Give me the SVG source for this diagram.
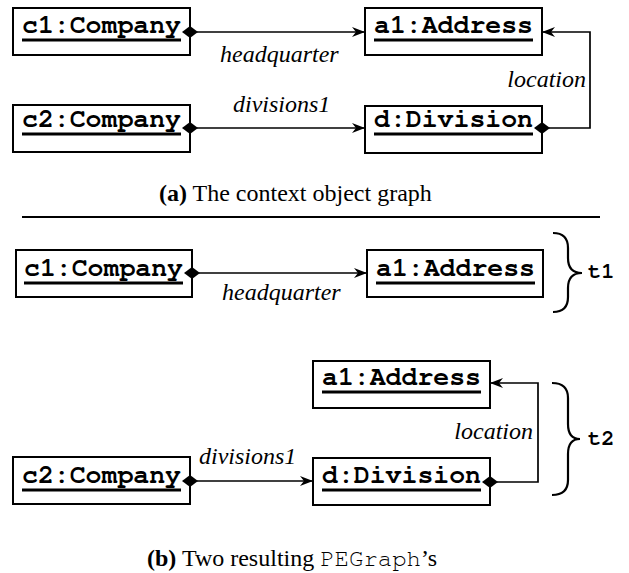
<svg xmlns="http://www.w3.org/2000/svg" width="629" height="573" viewBox="0 0 629 573">
<style>
.box{fill:#fff;stroke:#000;stroke-width:2}
.obj{font-family:"Nimbus Mono PS","Nimbus Mono L","FreeMono","Courier New","Liberation Mono",monospace;font-weight:bold;font-size:26.5px;fill:#000}
.ul{stroke:#000;stroke-width:3}
.lbl{font-family:"Liberation Serif","Times New Roman",serif;font-style:italic;font-size:24px;fill:#000}
.conn{fill:none;stroke:#000;stroke-width:1.7}
.dia{fill:#000}
.brace{fill:none;stroke:#000;stroke-width:2.2}
.tag{font-family:"Nimbus Mono PS","Nimbus Mono L","FreeMono","Courier New","Liberation Mono",monospace;font-weight:bold;font-size:22px;fill:#000}
.cap{font-family:"Liberation Serif","Times New Roman",serif;font-size:24px;fill:#000}
.mono{font-family:"Nimbus Mono PS","Nimbus Mono L","FreeMono","Courier New","Liberation Mono",monospace}
</style>
<defs>
<marker id="arr" markerWidth="14" markerHeight="12" refX="13" refY="5" orient="auto" markerUnits="userSpaceOnUse">
<path d="M0,0 L13,5 L0,10 L4,5 z" fill="#000"/>
</marker>
<path id="dm" d="M-8,0 L0,-6 L8,0 L0,6 z"/>
</defs>

<!-- (a) context object graph -->
<g id="a-c1"><rect class="box" x="13" y="8" width="177" height="47"/><text class="obj" x="22" y="33">c1:Company</text><line class="ul" x1="22" y1="40" x2="181" y2="40"/></g>
<g id="a-c2"><rect class="box" x="13" y="105" width="177" height="47"/><text class="obj" x="22" y="127">c2:Company</text><line class="ul" x1="22" y1="134" x2="181" y2="134"/></g>
<g id="a-a1"><rect class="box" x="365" y="8" width="177" height="47"/><text class="obj" x="374" y="33">a1:Address</text><line class="ul" x1="374" y1="40" x2="533" y2="40"/></g>
<g id="a-d"><rect class="box" x="365" y="106" width="177" height="47"/><text class="obj" x="374" y="127">d:Division</text><line class="ul" x1="374" y1="134" x2="533" y2="134"/></g>

<g id="a-connectors">
<line class="conn" x1="197" y1="32" x2="365" y2="32" marker-end="url(#arr)"/>
<use href="#dm" class="dia" x="190" y="32"/>
<text class="lbl" x="220" y="62">headquarter</text>
<line class="conn" x1="197" y1="128" x2="365" y2="128" marker-end="url(#arr)"/>
<use href="#dm" class="dia" x="190" y="128"/>
<text class="lbl" x="233" y="112">divisions1</text>
<path class="conn" d="M549,128 H590 V32 H542" marker-end="url(#arr)"/>
<use href="#dm" class="dia" x="542" y="128"/>
<text class="lbl" x="586" y="87" text-anchor="end">location</text>
</g>

<text class="cap" x="159" y="201"><tspan font-weight="bold">(a)</tspan> The context object graph</text>
<line x1="22" y1="217" x2="600" y2="217" stroke="#000" stroke-width="2"/>

<!-- (b) t1 -->
<g id="t1-c1"><rect class="box" x="16" y="250" width="176" height="47"/><text class="obj" x="24" y="276">c1:Company</text><line class="ul" x1="24" y1="283" x2="183" y2="283"/></g>
<g id="t1-a1"><rect class="box" x="367" y="250" width="176" height="47"/><text class="obj" x="376" y="276">a1:Address</text><line class="ul" x1="376" y1="283" x2="535" y2="283"/></g>
<g id="t1-connectors">
<line class="conn" x1="199" y1="273" x2="367" y2="273" marker-end="url(#arr)"/>
<use href="#dm" class="dia" x="192" y="273"/>
<text class="lbl" x="222" y="300">headquarter</text>
</g>
<g id="t1-brace"><path class="brace" d="M553,233 Q568,233 568,248 V258 Q568,273 582,273 Q568,273 568,288 V297 Q568,312 553,312"/><text class="tag" x="588" y="278">t1</text></g>

<!-- (b) t2 -->
<g id="t2-a1"><rect class="box" x="313" y="361" width="177" height="47"/><text class="obj" x="322" y="385">a1:Address</text><line class="ul" x1="322" y1="392" x2="481" y2="392"/></g>
<g id="t2-c2"><rect class="box" x="13" y="457" width="177" height="47"/><text class="obj" x="22" y="483">c2:Company</text><line class="ul" x1="22" y1="490" x2="181" y2="490"/></g>
<g id="t2-d"><rect class="box" x="313" y="458" width="177" height="47"/><text class="obj" x="322" y="483">d:Division</text><line class="ul" x1="322" y1="490" x2="481" y2="490"/></g>
<g id="t2-connectors">
<line class="conn" x1="197" y1="481" x2="313" y2="481" marker-end="url(#arr)"/>
<use href="#dm" class="dia" x="190" y="481"/>
<text class="lbl" x="199" y="464">divisions1</text>
<path class="conn" d="M497,482 H538 V383 H490" marker-end="url(#arr)"/>
<use href="#dm" class="dia" x="490" y="482"/>
<text class="lbl" x="533" y="439" text-anchor="end">location</text>
</g>
<g id="t2-brace"><path class="brace" d="M552,383 Q568,383 568,398 V424 Q568,439 580,439 Q568,439 568,454 V480 Q568,495 552,495"/><text class="tag" x="588" y="445">t2</text></g>

<text class="cap" x="147" y="566"><tspan font-weight="bold">(b)</tspan> Two resulting <tspan class="mono">PEGraph</tspan>’s</text>
</svg>
